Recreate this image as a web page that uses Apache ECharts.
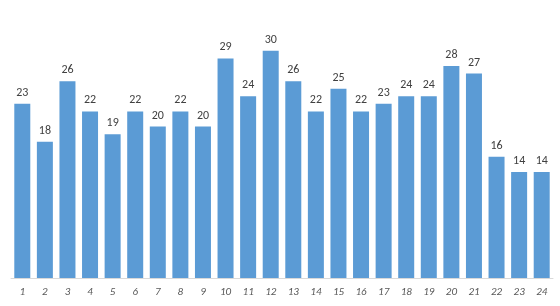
<!DOCTYPE html>
<html><head><meta charset="utf-8">
<script src="https://cdn.jsdelivr.net/npm/echarts@6/dist/echarts.min.js"></script>
<style>html,body{margin:0;padding:0;background:#fff}#c{width:560px;height:306px}</style>
</head><body><div id="c"></div>
<script>
const categories = ['1','2','3','4','5','6','7','8','9','10','11','12','13','14','15','16','17','18','19','20','21','22','23','24'];
const values = [23,18,26,22,19,22,20,22,20,29,24,30,26,22,25,22,23,24,24,28,27,16,14,14];
const chart = echarts.init(document.getElementById('c'));
chart.setOption({
  animation: false,
  grid: {left: 11, right: 7, top: 13, bottom: 28},
  xAxis: {
    type: 'category', data: categories,
    axisLine: {lineStyle: {color: '#d9d9d9'}},
    axisTick: {show: false},
    axisLabel: {fontStyle: 'italic', fontSize: 11, color: '#595959', margin: 9, fontFamily: 'Calibri, Carlito, "Liberation Sans", sans-serif'}
  },
  yAxis: {type: 'value', min: 0, max: 35, show: false, splitLine: {show: false}},
  series: [{
    type: 'bar', data: values, barWidth: 16,
    itemStyle: {color: '#5b9bd5'},
    label: {show: true, position: 'top', distance: 5, fontSize: 12, color: '#404040', fontFamily: 'Calibri, Carlito, "Liberation Sans", sans-serif'}
  }]
});
</script></body></html>
